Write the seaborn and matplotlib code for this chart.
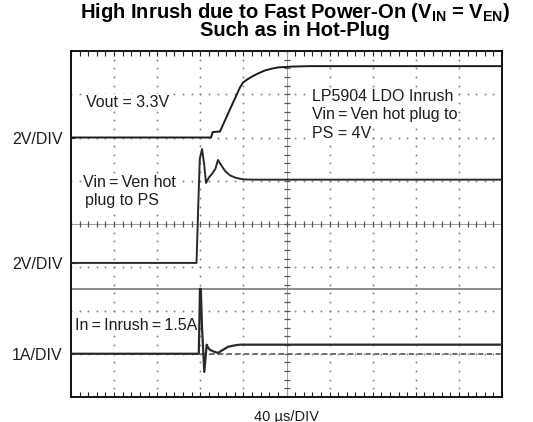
import matplotlib
matplotlib.use("Agg")
import numpy as np
import pandas as pd
import matplotlib.pyplot as plt
import seaborn as sns

# ---- captured waveforms (time in microseconds, 40 us/div, 10 divisions) ----
t_vout = [0, 130.0, 131.5, 138.3, 147.5, 156.8, 159.6, 163.5, 168.0, 174.0,
          180.0, 186.0, 192.1, 205.1, 221.8, 400]
vout = [0, 0, 0.25, 0.28, 1.30, 2.31, 2.54, 2.68, 2.82, 2.97,
        3.10, 3.18, 3.24, 3.28, 3.30, 3.30]

t_vin = [0, 116.5, 118.0, 119.5, 121.6, 123.5, 125.3, 128.0, 130.9, 134.0,
         136.4, 139.0, 143.0, 147.5, 152.2, 157.0, 161.5, 170.0, 400]
vin = [0, 0, 2.5, 4.8, 5.27, 4.6, 3.70, 3.95, 4.12, 4.35,
       4.76, 4.55, 4.25, 4.05, 3.95, 3.89, 3.86, 3.85, 3.85]

t_in = [0, 118.6, 119.7, 120.5, 121.6, 123.7, 125.2, 125.9, 127.0, 129.0,
        132.5, 136.4, 141.0, 145.7, 151.0, 156.8, 400]
i_in = [0, 0, 1.5, 1.5, 0.6, -0.42, 0.0, 0.21, 0.15, 0.09,
        0.05, 0.02, 0.09, 0.16, 0.19, 0.21, 0.21]

channel_labels = ["2V/DIV", "2V/DIV", "1A/DIV"]
cursor_current = 1.5          # amps, horizontal cursor
time_label = "40 µs/DIV"

# ---- screen layout: vertical offsets (divisions) and scales (units/div) ----
VOUT_POS, VOUT_SCALE = 6.0, 2.0
VIN_POS, VIN_SCALE = 3.1, 2.0
IN_POS, IN_SCALE = 1.0, 1.0

sns.set_theme(style="white")
plt.rcParams["font.family"] = ["Liberation Sans", "DejaVu Sans"]
plt.rcParams["mathtext.fontset"] = "custom"
plt.rcParams["mathtext.rm"] = "Liberation Sans:bold"
plt.rcParams["mathtext.it"] = "Liberation Sans:bold"
plt.rcParams["mathtext.bf"] = "Liberation Sans:bold"

fig = plt.figure(figsize=(5.33, 4.22), dpi=100)
ax = fig.add_axes([71 / 533, 1 - 397 / 422, 431 / 533, 346 / 422])
ax.set_xlim(0, 400)
ax.set_ylim(0, 8)

# graticule: dotted division lines
minor_x = np.arange(0, 400.01, 8)
minor_y = np.arange(0, 8.001, 0.2)
dot_kw = dict(ls="none", marker="o", ms=1.4, mew=0, color="#8a8a8a", zorder=1)
for gx in range(40, 400, 40):
    if gx == 200:
        continue
    ax.plot(np.full_like(minor_y, gx), minor_y, **dot_kw)
for gy in range(1, 8):
    if gy == 4:
        continue
    ax.plot(minor_x, np.full_like(minor_x, gy), **dot_kw)

# centre cross with fine tick marks
ax.axhline(4, color="#a0a0a0", lw=0.7, zorder=1)
ax.axvline(200, color="#a0a0a0", lw=0.7, zorder=1)
ax.plot(minor_x, np.full_like(minor_x, 4.0), ls="none", marker="|", ms=5,
        mew=0.9, color="#555555", zorder=1)
ax.plot(np.full_like(minor_y, 200.0), minor_y, ls="none", marker="_", ms=5,
        mew=0.9, color="#555555", zorder=1)

# cursor line and current reference level
ax.axhline(IN_POS + cursor_current / IN_SCALE, color="#8a8a8a", lw=1.4, zorder=2)
ax.axhline(IN_POS, color="#555555", lw=1.2, ls=(0, (3, 2.2)), zorder=2)

# annotations (white backing hides the graticule behind the words)
sp = "\u2009"
txt_kw = dict(fontsize=11.5, color="#1e1e1e", va="baseline", ha="left", zorder=2.5,
              bbox=dict(facecolor="white", edgecolor="none", pad=0.6))
ax.text(13.9, 6.705, "Vout = 3.3V", **txt_kw)
ax.text(223.7, 6.844, "LP5904 LDO Inrush", **txt_kw)
ax.text(223.7, 6.428, f"Vin{sp}={sp}Ven hot plug to", **txt_kw)
ax.text(223.7, 5.988, "PS = 4V", **txt_kw)
ax.text(11.1, 4.855, f"Vin{sp}={sp}Ven hot", **txt_kw)
ax.text(13.0, 4.439, "plug to PS", **txt_kw)
ax.text(3.7, 1.549, f"In{sp}={sp}Inrush{sp}={sp}1.5A", **txt_kw)

# traces
df = pd.concat([
    pd.DataFrame({"t": t_vout, "div": VOUT_POS + np.array(vout) / VOUT_SCALE, "ch": "Vout"}),
    pd.DataFrame({"t": t_vin, "div": VIN_POS + np.array(vin) / VIN_SCALE, "ch": "Vin"}),
    pd.DataFrame({"t": t_in, "div": IN_POS + np.array(i_in) / IN_SCALE, "ch": "In"}),
])
for ch, lw, col in [("Vout", 1.4, "#1c1c1c"), ("Vin", 1.4, "#2a2a2a"), ("In", 1.6, "#2a2a2a")]:
    sns.lineplot(data=df[df["ch"] == ch], x="t", y="div", ax=ax, estimator=None,
                 sort=False, color=col, lw=lw, zorder=3, legend=False)

# axes: ticks on the top/bottom frame, channel labels on the left
ax.set_xticks(np.arange(0, 401, 40))
ax.set_xticks(minor_x, minor=True)
ax.tick_params(axis="x", which="both", direction="in", top=True, bottom=True,
               length=3.5, width=0.8, color="#222222", labelbottom=False)
ax.set_yticks([VOUT_POS, VIN_POS, IN_POS], channel_labels)
ax.tick_params(axis="y", which="both", left=True, length=3, width=0.8,
               direction="in", pad=6, labelsize=11.5, labelcolor="#1e1e1e")
ax.set_xlabel(time_label, fontsize=10.5, color="#1e1e1e", labelpad=9)
ax.set_ylabel("")
for s in ax.spines.values():
    s.set_color("#111111")
    s.set_linewidth(1.4)

fig.text(295 / 533, 1 - 1 / 422,
         "High Inrush due to Fast Power-On ($\\mathrm{V_{IN}}$ = $\\mathrm{V_{EN}}$)\nSuch as in Hot-Plug",
         ha="center", va="top", fontsize=14.5, weight="bold", color="black",
         linespacing=0.82)

fig.savefig("out.png", dpi=100, facecolor="white")
